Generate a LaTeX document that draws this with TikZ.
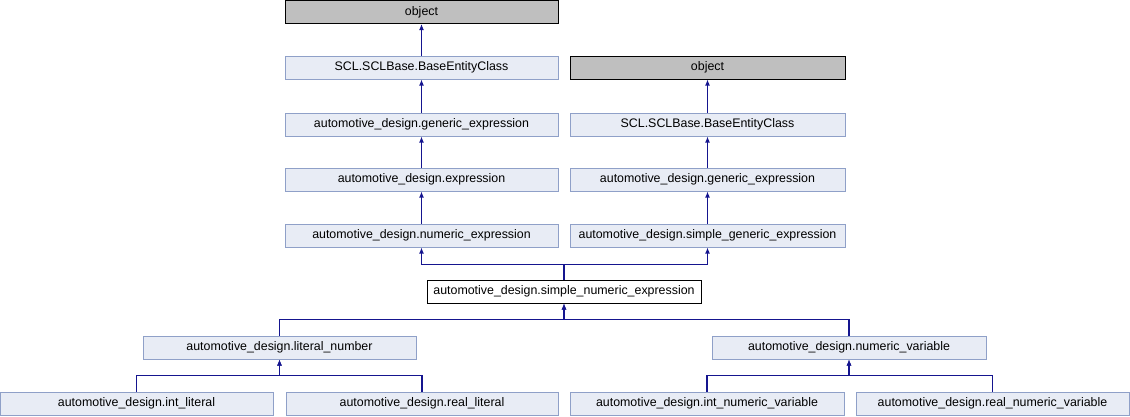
\documentclass[tikz,border=0pt]{standalone}
\usepackage{fontspec}
\setmainfont{Liberation Sans}
\usetikzlibrary{arrows.meta}
\definecolor{edgeblue}{HTML}{15158F}
\definecolor{boxfill}{HTML}{E8ECF5}
\definecolor{boxline}{HTML}{8FA0C8}
\definecolor{basefill}{HTML}{BFBFBF}
\tikzset{
	cls/.style={draw=boxline, fill=boxfill, line width=1pt, inner sep=0pt, minimum height=23pt},
	baseobj/.style={draw=black, fill=basefill, line width=1pt, inner sep=0pt, minimum height=23pt},
	current/.style={draw=black, fill=white, line width=1pt, inner sep=0pt, minimum height=23pt},
	inherit/.style={draw=edgeblue, line width=1.2pt, -{Latex[length=6pt,width=5pt]}}
}
\begin{document}
\begin{tikzpicture}[x=1pt, y=-1pt, font=\fontsize{12.4}{14}\selectfont]
	\useasboundingbox (0,0) rectangle (1130,416);
	% left chain
	\node[baseobj, minimum width=273pt] (obja) at (421.5,12) {object};
	\node[cls, minimum width=273pt] (scla) at (421.5,67.5) {SCL.SCLBase.BaseEntityClass};
	\node[cls, minimum width=273pt] (gena) at (421.5,124.5) {automotive\_design.generic\_expression};
	\node[cls, minimum width=273pt] (expr) at (421.5,179.5) {automotive\_design.expression};
	\node[cls, minimum width=273pt] (numexpr) at (421.5,235.5) {automotive\_design.numeric\_expression};
	% right chain
	\node[baseobj, minimum width=275pt] (objb) at (707.5,67.5) {object};
	\node[cls, minimum width=275pt] (sclb) at (707.5,124.5) {SCL.SCLBase.BaseEntityClass};
	\node[cls, minimum width=275pt] (genb) at (707.5,179.5) {automotive\_design.generic\_expression};
	\node[cls, minimum width=275pt] (simgen) at (707.5,235.5) {automotive\_design.simple\_generic\_expression};
	% the class itself
	\node[current, minimum width=274pt] (simnum) at (564,291.5) {automotive\_design.simple\_numeric\_expression};
	% derived classes
	\node[cls, minimum width=273pt] (litnum) at (279.5,347.5) {automotive\_design.literal\_number};
	\node[cls, minimum width=274pt] (numvar) at (849,347.5) {automotive\_design.numeric\_variable};
	\node[cls, minimum width=273pt] (intlit) at (136.5,403.5) {automotive\_design.int\_literal};
	\node[cls, minimum width=272pt] (reallit) at (422,403.5) {automotive\_design.real\_literal};
	\node[cls, minimum width=274pt] (intvar) at (707,403.5) {automotive\_design.int\_numeric\_variable};
	\node[cls, minimum width=273pt] (realvar) at (992.5,403.5) {automotive\_design.real\_numeric\_variable};
	% inheritance
	\draw[inherit] (scla) -- (obja);
	\draw[inherit] (gena) -- (scla);
	\draw[inherit] (expr) -- (gena);
	\draw[inherit] (numexpr) -- (expr);
	\draw[inherit] (sclb) -- (objb);
	\draw[inherit] (genb) -- (sclb);
	\draw[inherit] (simgen) -- (genb);
	\draw[inherit] (simnum.north) -- ++(0,-15) -| (numexpr.south);
	\draw[inherit] (simnum.north) -- ++(0,-15) -| (simgen.south);
	\draw[inherit] (litnum.north) -- ++(0,-16) -| (simnum.south);
	\draw[inherit] (numvar.north) -- ++(0,-16) -| (simnum.south);
	\draw[inherit] (intlit.north) -- ++(0,-16) -| (litnum.south);
	\draw[inherit] (reallit.north) -- ++(0,-16) -| (litnum.south);
	\draw[inherit] (intvar.north) -- ++(0,-16) -| (numvar.south);
	\draw[inherit] (realvar.north) -- ++(0,-16) -| (numvar.south);
\end{tikzpicture}
\end{document}
